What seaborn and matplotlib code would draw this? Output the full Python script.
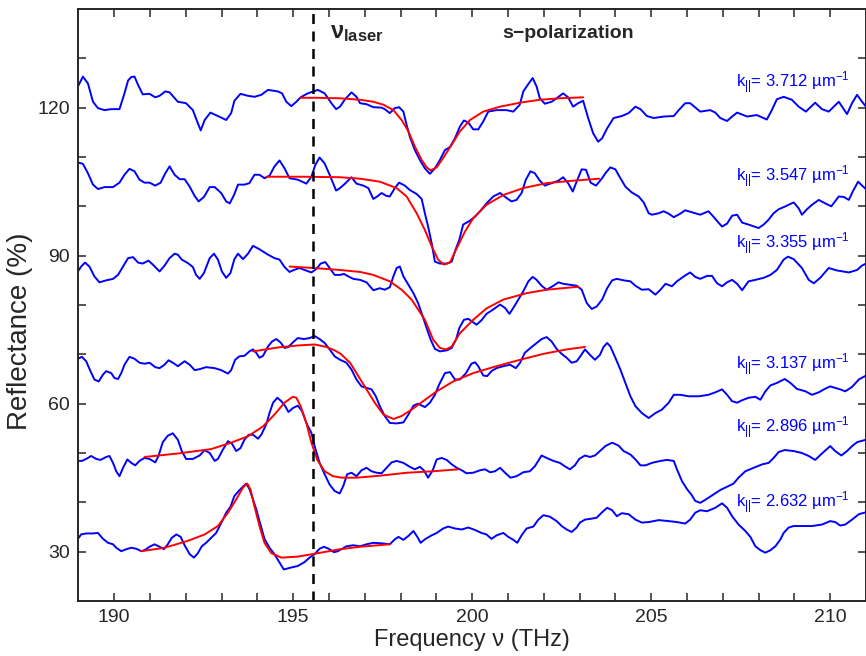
import numpy as np
import pandas as pd
import seaborn as sns
import matplotlib
matplotlib.use("Agg")
import matplotlib.pyplot as plt

sns.set_style("ticks")
plt.rcParams["font.family"] = ["Liberation Sans", "DejaVu Sans"]
plt.rcParams["mathtext.fontset"] = "custom"
plt.rcParams["mathtext.rm"] = "Liberation Sans"
plt.rcParams["mathtext.it"] = "Liberation Sans:italic"
plt.rcParams["mathtext.bf"] = "Liberation Sans:bold"

# ---- measured spectra (frequency THz, reflectance %) ----
freq1 = [188.99, 189.13, 189.27, 189.41, 189.55, 189.73, 189.92, 190.15, 190.29, 190.39, 190.48, 190.57,
         190.67, 190.80, 190.99, 191.15, 191.27, 191.43, 191.55, 191.78, 192.01, 192.20, 192.32, 192.42,
         192.53, 192.69, 192.90, 193.13, 193.27, 193.36, 193.53, 193.74, 193.92, 194.11, 194.30, 194.57,
         194.69, 194.81, 194.95, 195.09, 195.21, 195.41, 195.69, 195.88, 196.07, 196.20, 196.31, 196.45,
         196.63, 196.77, 196.87, 197.05, 197.24, 197.47, 197.56, 197.70, 197.84, 197.96, 198.08, 198.17,
         198.26, 198.40, 198.54, 198.68, 198.82, 198.96, 199.10, 199.24, 199.38, 199.52, 199.66, 199.77,
         199.89, 200.03, 200.17, 200.31, 200.45, 200.68, 200.96, 201.15, 201.33, 201.43, 201.57, 201.69,
         201.80, 201.89, 202.03, 202.22, 202.36, 202.54, 202.68, 202.82, 202.96, 203.10, 203.24, 203.38,
         203.52, 203.63, 203.77, 203.95, 204.18, 204.37, 204.56, 204.70, 204.88, 205.07, 205.35, 205.63,
         205.77, 205.95, 206.09, 206.37, 206.65, 206.79, 206.93, 207.12, 207.26, 207.40, 207.68, 207.95,
         208.23, 208.37, 208.51, 208.70, 208.93, 209.12, 209.32, 209.58, 209.77, 209.96, 210.24, 210.47,
         210.61, 210.75, 210.89, 211.00]
refl1 = [124.3, 126.3, 124.9, 121.2, 119.9, 119.5, 119.7, 119.7, 122.9, 125.5, 126.2, 126.3,
         124.6, 122.7, 122.8, 122.1, 122.4, 123.3, 123.1, 121.2, 120.9, 119.5, 117.2, 115.4,
         117.5, 119.0, 118.3, 117.5, 118.9, 121.4, 122.8, 122.4, 122.2, 122.6, 123.6, 123.3,
         122.9, 121.2, 120.3, 121.2, 122.1, 122.9, 123.6, 122.9, 120.9, 119.7, 120.2, 121.7,
         123.1, 122.2, 120.9, 120.7, 120.1, 120.0, 119.7, 118.9, 119.9, 120.1, 119.2, 116.5,
         114.1, 111.4, 109.4, 107.7, 106.6, 107.7, 109.4, 111.4, 112.0, 113.8, 116.2, 117.4,
         117.0, 115.6, 115.6, 117.2, 119.2, 119.5, 119.5, 119.2, 120.6, 123.3, 124.8, 126.0,
         124.3, 121.9, 120.8, 121.2, 121.9, 122.9, 122.1, 120.2, 120.9, 121.4, 117.9, 114.8,
         113.1, 113.8, 115.8, 117.9, 118.3, 118.9, 120.2, 119.7, 118.3, 117.9, 118.2, 118.3,
         119.5, 120.9, 120.9, 119.2, 119.5, 119.0, 117.9, 117.3, 118.2, 119.0, 118.2, 118.5,
         117.6, 119.5, 121.7, 122.2, 121.6, 120.2, 119.2, 121.0, 119.7, 119.2, 121.2, 118.7,
         120.9, 122.6, 121.2, 120.2]

freq2 = [188.99, 189.13, 189.27, 189.41, 189.55, 189.73, 189.97, 190.15, 190.29, 190.43, 190.57, 190.71,
         190.85, 190.99, 191.15, 191.30, 191.43, 191.55, 191.69, 191.83, 191.97, 192.11, 192.25, 192.36,
         192.51, 192.67, 192.81, 192.99, 193.13, 193.23, 193.35, 193.46, 193.64, 193.78, 193.92, 194.06,
         194.20, 194.34, 194.48, 194.62, 194.76, 194.90, 195.13, 195.37, 195.51, 195.62, 195.74, 195.88,
         196.02, 196.20, 196.31, 196.45, 196.63, 196.77, 196.96, 197.10, 197.24, 197.35, 197.47, 197.61,
         197.70, 197.84, 197.96, 198.12, 198.26, 198.45, 198.59, 198.68, 198.77, 198.87, 198.96, 199.10,
         199.29, 199.43, 199.52, 199.64, 199.75, 199.94, 200.08, 200.22, 200.40, 200.59, 200.78, 200.96,
         201.10, 201.24, 201.38, 201.50, 201.63, 201.75, 201.89, 202.03, 202.22, 202.41, 202.54, 202.68,
         202.81, 202.94, 203.06, 203.18, 203.31, 203.46, 203.63, 203.72, 203.86, 204.00, 204.14, 204.28,
         204.46, 204.65, 204.79, 204.93, 205.02, 205.21, 205.35, 205.49, 205.63, 205.81, 205.95, 206.14,
         206.37, 206.60, 206.74, 206.88, 206.98, 207.12, 207.26, 207.40, 207.54, 207.72, 208.00, 208.14,
         208.28, 208.42, 208.56, 208.75, 208.98, 209.12, 209.21, 209.35, 209.49, 209.68, 209.86, 210.03,
         210.24, 210.38, 210.52, 210.63, 210.78, 210.89, 211.00]
refl2 = [108.9, 108.6, 106.7, 104.4, 103.5, 103.9, 103.9, 104.8, 106.4, 107.6, 107.1, 105.4,
         104.8, 104.8, 104.2, 104.8, 106.7, 108.1, 106.4, 105.5, 105.5, 104.0, 102.1, 101.0,
         101.9, 103.9, 103.9, 102.7, 101.0, 100.6, 102.3, 104.4, 104.4, 104.7, 106.4, 106.4,
         105.7, 106.2, 108.1, 109.3, 107.7, 105.7, 105.4, 104.6, 106.0, 108.4, 109.9, 108.7,
         106.4, 103.2, 103.7, 104.6, 105.9, 104.6, 104.2, 103.7, 101.5, 102.0, 102.7, 102.1,
         102.0, 103.7, 104.8, 104.2, 103.3, 102.5, 101.5, 98.6, 95.9, 92.5, 88.8, 88.4,
         88.4, 88.8, 90.9, 93.2, 96.3, 97.1, 97.9, 99.0, 100.6, 102.0, 102.7, 101.7,
         101.0, 101.3, 102.7, 105.4, 107.1, 106.7, 105.2, 104.2, 104.7, 105.2, 105.9, 104.7,
         103.0, 105.4, 107.5, 107.4, 104.8, 104.2, 105.7, 106.7, 107.9, 107.5, 105.7, 104.0,
         102.8, 102.0, 100.8, 98.6, 98.3, 98.6, 99.0, 98.5, 97.8, 98.5, 99.2, 98.8,
         98.3, 99.0, 97.9, 96.7, 95.9, 96.5, 98.1, 98.3, 96.7, 96.3, 95.6, 96.3,
         97.3, 98.6, 99.4, 100.0, 100.8, 99.6, 98.3, 99.4, 100.3, 101.3, 100.6, 100.0,
         102.0, 101.9, 101.3, 103.0, 105.0, 104.2, 103.5]

freq3 = [188.99, 189.08, 189.19, 189.31, 189.45, 189.59, 189.78, 189.97, 190.11, 190.25, 190.39, 190.53,
         190.67, 190.80, 190.96, 191.11, 191.27, 191.41, 191.55, 191.69, 191.78, 191.89, 192.06, 192.20,
         192.29, 192.39, 192.51, 192.67, 192.79, 192.90, 193.01, 193.13, 193.25, 193.36, 193.46, 193.60,
         193.74, 193.88, 194.06, 194.30, 194.48, 194.62, 194.76, 194.90, 195.02, 195.18, 195.32, 195.51,
         195.65, 195.77, 195.90, 196.02, 196.16, 196.31, 196.42, 196.54, 196.68, 196.87, 197.05, 197.24,
         197.42, 197.56, 197.70, 197.80, 197.89, 197.98, 198.08, 198.22, 198.36, 198.49, 198.62, 198.73,
         198.84, 198.96, 199.10, 199.29, 199.43, 199.55, 199.64, 199.77, 199.89, 200.03, 200.12, 200.26,
         200.40, 200.59, 200.78, 200.92, 201.04, 201.15, 201.29, 201.43, 201.57, 201.69, 201.80, 201.94,
         202.08, 202.27, 202.41, 202.54, 202.73, 202.92, 203.06, 203.20, 203.34, 203.48, 203.63, 203.77,
         203.91, 204.04, 204.23, 204.42, 204.56, 204.74, 204.93, 205.12, 205.26, 205.40, 205.58, 205.72,
         205.91, 206.09, 206.23, 206.37, 206.56, 206.70, 206.84, 206.98, 207.12, 207.26, 207.40, 207.54,
         207.72, 207.91, 208.14, 208.33, 208.51, 208.70, 208.82, 208.98, 209.21, 209.40, 209.54, 209.72,
         209.96, 210.19, 210.52, 210.75, 210.89, 211.00]
refl3 = [86.8, 87.8, 88.6, 87.8, 85.8, 84.6, 85.0, 85.3, 86.1, 87.8, 89.5, 89.7,
         88.6, 88.4, 89.0, 88.0, 86.8, 88.0, 89.5, 90.4, 90.2, 89.2, 88.5, 87.7,
         86.1, 85.3, 86.5, 89.5, 90.4, 89.2, 86.8, 85.5, 86.5, 89.3, 90.4, 89.3,
         90.4, 92.0, 91.3, 90.2, 89.5, 89.2, 87.7, 86.7, 87.1, 87.5, 87.1, 86.6,
         87.3, 88.4, 88.7, 87.5, 86.1, 86.1, 86.3, 85.8, 85.3, 85.1, 84.6, 83.0,
         83.4, 83.1, 83.6, 85.8, 87.5, 87.8, 85.8, 84.1, 82.4, 80.4, 77.7, 75.3,
         73.0, 71.1, 70.6, 70.8, 71.3, 73.0, 75.3, 77.0, 77.2, 76.5, 76.0, 76.9,
         78.2, 79.1, 80.1, 79.4, 78.2, 79.4, 81.1, 82.8, 84.8, 85.7, 85.1, 83.9,
         83.1, 83.9, 84.6, 84.3, 84.1, 83.9, 83.1, 80.4, 79.2, 79.7, 81.1, 83.4,
         85.0, 85.3, 85.0, 84.8, 83.9, 83.1, 83.2, 82.1, 83.1, 84.3, 83.8, 84.8,
         85.8, 86.6, 85.7, 85.3, 85.9, 85.9, 84.4, 83.8, 84.6, 85.1, 84.3, 83.0,
         84.8, 85.1, 85.5, 86.1, 87.1, 89.2, 89.8, 89.3, 87.5, 85.1, 84.4, 85.5,
         87.5, 87.0, 86.6, 87.1, 88.0, 88.4]

freq4 = [188.99, 189.10, 189.22, 189.34, 189.45, 189.57, 189.69, 189.78, 189.92, 190.01, 190.11, 190.20,
         190.29, 190.43, 190.57, 190.71, 190.85, 190.99, 191.15, 191.27, 191.41, 191.52, 191.64, 191.78,
         191.97, 192.11, 192.25, 192.39, 192.57, 192.81, 192.99, 193.18, 193.27, 193.38, 193.50, 193.64,
         193.78, 193.88, 193.97, 194.06, 194.16, 194.30, 194.41, 194.53, 194.65, 194.76, 194.87, 194.99,
         195.13, 195.30, 195.46, 195.60, 195.74, 195.88, 196.02, 196.16, 196.31, 196.49, 196.63, 196.77,
         196.91, 197.05, 197.19, 197.31, 197.42, 197.56, 197.70, 197.89, 198.08, 198.22, 198.36, 198.49,
         198.68, 198.82, 198.96, 199.08, 199.24, 199.38, 199.52, 199.66, 199.83, 199.98, 200.08, 200.17,
         200.31, 200.42, 200.54, 200.68, 200.87, 201.06, 201.22, 201.34, 201.47, 201.63, 201.80, 201.94,
         202.08, 202.22, 202.36, 202.50, 202.64, 202.78, 202.92, 203.03, 203.15, 203.29, 203.43, 203.57,
         203.67, 203.77, 203.86, 204.00, 204.14, 204.28, 204.42, 204.56, 204.74, 204.93, 205.12, 205.30,
         205.49, 205.63, 205.81, 206.05, 206.33, 206.60, 206.79, 206.98, 207.12, 207.26, 207.40, 207.54,
         207.72, 207.91, 208.05, 208.19, 208.33, 208.51, 208.73, 208.89, 209.07, 209.31, 209.49, 209.68,
         209.85, 210.00, 210.14, 210.28, 210.42, 210.61, 210.80, 211.00]
refl4 = [69.1, 69.5, 68.6, 66.6, 64.9, 64.5, 65.9, 66.6, 66.2, 65.2, 65.0, 66.2,
         67.9, 69.5, 69.1, 68.3, 68.1, 68.3, 67.4, 67.2, 67.9, 68.8, 68.3, 67.6,
         68.6, 67.9, 66.8, 67.0, 67.4, 67.2, 66.8, 66.1, 66.8, 68.9, 69.6, 69.7,
         70.6, 71.0, 70.3, 69.3, 69.7, 71.6, 72.6, 73.1, 72.4, 71.3, 71.5, 72.4,
         73.3, 73.1, 73.3, 73.7, 73.1, 72.3, 71.0, 69.6, 68.9, 68.3, 66.9, 64.9,
         63.5, 63.2, 62.9, 61.5, 59.5, 57.5, 56.1, 56.0, 56.2, 57.8, 59.6, 60.0,
         59.3, 60.2, 61.8, 63.9, 66.2, 66.4, 64.9, 64.9, 66.2, 68.1, 68.4, 67.6,
         65.7, 65.6, 66.6, 67.2, 67.6, 67.9, 67.2, 68.3, 70.3, 71.3, 72.3, 73.1,
         73.5, 72.6, 71.1, 70.1, 69.3, 68.3, 68.6, 69.7, 71.0, 69.9, 68.9, 69.9,
         71.5, 72.3, 71.6, 69.3, 66.9, 64.2, 61.5, 59.5, 58.1, 57.1, 58.1, 58.8,
         60.2, 61.8, 61.8, 61.5, 61.5, 61.8, 62.3, 62.9, 61.8, 60.5, 60.2, 60.7,
         61.2, 61.4, 60.8, 62.5, 63.7, 64.2, 65.0, 64.2, 63.0, 62.5, 61.8, 62.3,
         63.0, 63.5, 63.2, 62.9, 62.5, 63.4, 64.9, 65.7]

freq5 = [188.99, 189.10, 189.22, 189.36, 189.50, 189.62, 189.78, 189.87, 189.97, 190.06, 190.15, 190.25,
         190.37, 190.48, 190.59, 190.71, 190.85, 190.99, 191.15, 191.24, 191.36, 191.50, 191.64, 191.78,
         191.89, 192.01, 192.20, 192.39, 192.53, 192.67, 192.81, 192.90, 193.04, 193.18, 193.29, 193.41,
         193.53, 193.64, 193.76, 193.88, 194.02, 194.11, 194.25, 194.34, 194.44, 194.56, 194.67, 194.78,
         194.87, 194.99, 195.13, 195.25, 195.37, 195.51, 195.60, 195.74, 195.88, 196.02, 196.16, 196.30,
         196.40, 196.51, 196.63, 196.77, 196.91, 197.05, 197.19, 197.33, 197.47, 197.61, 197.75, 197.89,
         198.08, 198.26, 198.40, 198.54, 198.65, 198.77, 198.90, 199.01, 199.15, 199.29, 199.43, 199.57,
         199.71, 199.84, 200.03, 200.22, 200.36, 200.50, 200.64, 200.78, 200.92, 201.07, 201.24, 201.43,
         201.61, 201.75, 201.94, 202.08, 202.27, 202.45, 202.59, 202.73, 202.87, 202.99, 203.15, 203.29,
         203.43, 203.57, 203.72, 203.91, 204.09, 204.23, 204.42, 204.56, 204.70, 204.84, 205.02, 205.26,
         205.44, 205.63, 205.72, 205.86, 206.00, 206.12, 206.23, 206.37, 206.51, 206.70, 206.93, 207.16,
         207.30, 207.44, 207.63, 207.86, 208.10, 208.28, 208.42, 208.56, 208.73, 208.98, 209.21, 209.40,
         209.58, 209.77, 210.00, 210.14, 210.31, 210.47, 210.61, 210.75, 211.00]
refl5 = [48.4, 48.4, 48.8, 49.4, 48.8, 48.6, 49.2, 49.4, 48.0, 46.3, 45.3, 47.0,
         48.7, 48.0, 47.5, 48.4, 49.0, 48.8, 48.1, 49.4, 52.2, 53.5, 54.0, 52.7,
         50.4, 48.8, 48.8, 49.5, 50.6, 50.0, 48.4, 48.8, 50.7, 52.4, 51.9, 50.4,
         51.0, 52.7, 53.7, 53.7, 52.9, 53.7, 55.8, 58.1, 60.2, 61.2, 60.5, 59.5,
         58.3, 59.1, 59.6, 58.5, 56.1, 54.1, 51.4, 48.0, 45.7, 43.6, 42.3, 41.8,
         43.3, 45.7, 46.0, 45.3, 46.5, 47.0, 46.3, 46.0, 45.9, 47.0, 48.1, 48.4,
         48.0, 47.2, 46.7, 47.2, 46.5, 45.0, 46.5, 48.7, 49.0, 48.6, 47.7, 47.0,
         46.5, 45.9, 46.0, 46.5, 46.7, 46.1, 46.3, 47.0, 46.0, 45.0, 45.3, 46.1,
         46.3, 47.3, 49.5, 49.0, 48.4, 48.0, 47.3, 46.7, 47.5, 48.8, 49.5, 49.2,
         49.5, 50.4, 51.4, 52.1, 51.5, 50.4, 49.7, 48.7, 47.5, 47.5, 48.0, 48.4,
         48.6, 48.4, 46.7, 44.3, 42.7, 41.6, 40.3, 39.9, 40.5, 41.4, 42.5, 43.3,
         43.8, 45.0, 46.3, 47.0, 47.7, 48.0, 49.0, 50.2, 50.6, 50.4, 50.0, 49.4,
         48.6, 49.9, 51.4, 50.4, 49.5, 50.4, 51.4, 52.2, 52.7]

freq6 = [188.99, 189.08, 189.22, 189.41, 189.55, 189.69, 189.83, 189.97, 190.06, 190.20, 190.34, 190.48,
         190.62, 190.76, 190.85, 190.99, 191.13, 191.27, 191.39, 191.50, 191.61, 191.74, 191.86, 191.97,
         192.11, 192.23, 192.34, 192.45, 192.57, 192.71, 192.85, 192.95, 193.04, 193.13, 193.25, 193.36,
         193.48, 193.60, 193.69, 193.78, 193.88, 193.97, 194.09, 194.20, 194.34, 194.48, 194.62, 194.74,
         194.95, 195.13, 195.32, 195.46, 195.60, 195.74, 195.86, 195.99, 196.14, 196.25, 196.49, 196.68,
         196.87, 197.05, 197.24, 197.47, 197.70, 197.84, 197.94, 198.08, 198.22, 198.36, 198.47, 198.56,
         198.68, 198.84, 199.01, 199.19, 199.33, 199.52, 199.71, 199.89, 200.08, 200.26, 200.40, 200.54,
         200.68, 200.87, 201.01, 201.15, 201.26, 201.38, 201.52, 201.71, 201.85, 201.99, 202.17, 202.36,
         202.50, 202.64, 202.78, 202.92, 203.01, 203.15, 203.34, 203.48, 203.63, 203.77, 203.91, 204.04,
         204.18, 204.37, 204.56, 204.74, 204.93, 205.21, 205.49, 205.72, 205.95, 206.09, 206.23, 206.37,
         206.56, 206.79, 206.98, 207.12, 207.26, 207.44, 207.63, 207.77, 207.91, 208.05, 208.19, 208.33,
         208.47, 208.61, 208.70, 208.84, 208.98, 209.21, 209.49, 209.77, 210.00, 210.14, 210.28, 210.42,
         210.61, 210.80, 211.00]
refl6 = [32.6, 33.5, 33.7, 33.7, 33.8, 32.6, 31.8, 31.5, 30.8, 30.1, 30.5, 30.8,
         30.6, 30.1, 30.3, 31.0, 31.5, 31.0, 30.5, 31.5, 32.8, 33.5, 33.0, 31.3,
         29.5, 28.8, 29.7, 31.1, 31.8, 32.8, 33.8, 35.2, 36.5, 37.9, 39.1, 41.3,
         42.3, 43.2, 43.8, 42.7, 40.6, 38.6, 35.5, 32.6, 30.8, 29.5, 27.8, 26.4,
         26.8, 27.1, 27.9, 28.8, 29.5, 30.6, 31.0, 30.6, 29.9, 30.1, 31.1, 31.3,
         31.1, 31.5, 31.8, 31.7, 31.5, 32.5, 33.0, 32.4, 33.2, 34.2, 33.0, 31.8,
         32.5, 33.2, 33.8, 34.7, 35.1, 34.7, 34.5, 34.9, 34.4, 33.8, 33.5, 32.6,
         33.3, 33.8, 33.0, 32.4, 31.8, 33.3, 34.7, 35.1, 36.5, 37.4, 37.1, 36.2,
         35.2, 34.5, 34.0, 34.9, 35.9, 36.5, 36.7, 36.9, 38.0, 38.9, 38.4, 37.2,
         37.8, 37.6, 36.5, 35.9, 36.0, 36.4, 36.2, 36.0, 35.7, 36.5, 37.9, 38.4,
         38.2, 38.9, 39.8, 38.9, 37.2, 35.5, 34.2, 33.0, 31.1, 30.3, 29.8, 30.3,
         31.1, 32.5, 33.8, 34.9, 35.2, 35.2, 35.2, 35.5, 36.2, 36.0, 35.3, 35.5,
         36.5, 37.6, 38.0]

# ---- fitted curves ----
fit_freq1 = [195.21, 195.67, 196.31, 196.87, 197.24, 197.52, 197.80, 198.03, 198.22, 198.40, 198.59, 198.73,
             198.84, 199.01, 199.19, 199.43, 199.66, 199.94, 200.31, 200.78, 201.33, 201.89, 202.45, 203.10]
fit_refl1 = [122.0, 122.0, 121.9, 121.6, 121.2, 120.6, 119.5, 117.5, 115.2, 112.1, 109.4, 107.9,
             107.3, 107.9, 109.8, 112.5, 115.2, 117.5, 119.2, 120.2, 121.0, 121.6, 121.9, 122.1]
fit_freq2 = [194.25, 195.27, 196.31, 196.87, 197.42, 197.89, 198.17, 198.45, 198.68, 198.87, 199.05, 199.21,
             199.38, 199.57, 199.80, 200.03, 200.40, 200.87, 201.43, 202.08, 202.82, 203.55]
fit_refl2 = [106.0, 106.0, 105.9, 105.6, 105.0, 103.7, 102.0, 98.6, 95.2, 91.9, 89.2, 88.2,
             88.6, 91.5, 94.9, 97.6, 100.3, 102.3, 103.7, 104.7, 105.2, 105.6]
fit_freq3 = [194.90, 195.57, 196.31, 196.87, 197.24, 197.70, 198.03, 198.31, 198.68, 198.91, 199.10, 199.27,
             199.43, 199.66, 200.03, 200.40, 200.87, 201.52, 202.08, 202.82, 202.97]
fit_refl3 = [87.8, 87.5, 87.1, 86.7, 86.1, 84.8, 83.1, 81.1, 77.0, 73.0, 71.3, 71.0,
             71.6, 74.3, 77.0, 79.3, 81.1, 82.4, 83.1, 83.6, 83.7]
fit_freq4 = [193.88, 194.58, 195.13, 195.60, 195.93, 196.16, 196.33, 196.59, 196.82, 197.05, 197.28, 197.52,
             197.80, 198.03, 198.31, 198.63, 199.01, 199.47, 200.03, 200.68, 201.34, 201.99, 202.64, 203.15]
fit_refl4 = [70.6, 71.4, 71.8, 72.0, 71.5, 70.8, 70.1, 68.3, 65.6, 62.9, 60.2, 57.8,
             56.9, 57.5, 58.8, 60.5, 62.5, 64.5, 66.2, 67.6, 68.9, 70.1, 71.0, 71.5]
fit_freq5 = [190.85, 191.78, 192.71, 193.27, 193.74, 194.16, 194.48, 194.76, 194.99, 195.09, 195.21, 195.37,
             195.51, 195.67, 195.88, 196.11, 196.36, 196.77, 197.42, 198.17, 198.91, 199.61]
fit_refl5 = [49.2, 49.9, 50.8, 52.1, 53.4, 55.4, 57.8, 60.2, 61.4, 61.2, 59.5, 56.1,
             52.1, 48.7, 46.3, 45.3, 45.0, 45.0, 45.4, 46.0, 46.3, 46.7]
fit_freq6 = [190.76, 191.41, 192.06, 192.53, 192.90, 193.18, 193.41, 193.60, 193.72, 193.81, 193.92, 194.06,
             194.20, 194.39, 194.67, 195.13, 195.69, 196.31, 196.87, 197.70]
fit_refl6 = [30.1, 30.8, 32.2, 33.5, 35.2, 37.9, 40.6, 43.0, 43.8, 42.6, 39.2, 35.2,
             31.8, 29.7, 28.8, 29.0, 29.7, 30.5, 31.0, 31.5]

k_values = ["3.712", "3.547", "3.355", "3.137", "2.896", "2.632"]
label_refl = [125.0, 106.0, 92.5, 67.9, 55.1, 40.0]
nu_laser = 195.55

spectra = [(freq1, refl1), (freq2, refl2), (freq3, refl3),
           (freq4, refl4), (freq5, refl5), (freq6, refl6)]
fits = [(fit_freq1, fit_refl1), (fit_freq2, fit_refl2), (fit_freq3, fit_refl3),
        (fit_freq4, fit_refl4), (fit_freq5, fit_refl5), (fit_freq6, fit_refl6)]

fig = plt.figure(figsize=(8.66, 6.56), dpi=100)
ax = fig.add_axes([0.0904, 0.0838, 0.9096, 0.9025])

for fx, fy in spectra:
    sns.lineplot(x=fx, y=fy, color="#0000ff", lw=1.4, estimator=None, sort=False, ax=ax)
for fx, fy in fits:
    sns.lineplot(x=fx, y=fy, color="#ff0000", lw=1.4, estimator=None, sort=False, ax=ax)

ax.axvline(nu_laser, color="k", ls=(0, (4, 3)), lw=1.8)

for k, yl in zip(k_values, label_refl):
    ax.text(210.55, yl, r"k$_{||}$= " + k + r" µm$^{-1}$", color="#0000ff",
            fontsize=12, ha="right", va="center")

ax.text(196.03, 135.2, r"$\mathbf{\nu}_{\mathbf{laser}}$", fontsize=17, ha="left", va="center")
ax.text(202.69, 135.1, "s\u2212polarization", fontsize=14, fontweight="bold", ha="center", va="center")

ax.set_xlim(189, 211)
ax.set_ylim(20, 140)
xt = list(range(190, 211))
ax.set_xticks(xt)
ax.set_xticklabels([str(t) if t % 5 == 0 else "" for t in xt])
yt = list(range(30, 140, 10))
ax.set_yticks(yt)
ax.set_yticklabels([str(t) if t in (30, 60, 90, 120) else "" for t in yt])
ax.tick_params(direction="in", top=True, right=True, length=6, width=1.1, labelsize=14, pad=6)
for s in ax.spines.values():
    s.set_linewidth(1.4)

ax.set_xlabel("Frequency \u03bd (THz)", fontsize=17, labelpad=2)
ax.set_ylabel("Reflectance (%)", fontsize=20)
ax.yaxis.set_label_coords(-0.058, 0.455)

fig.savefig("out.png", dpi=100)
